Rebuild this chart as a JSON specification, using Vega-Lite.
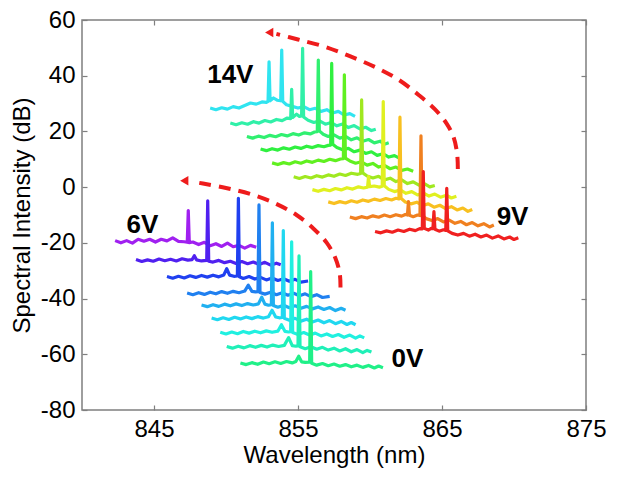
{
  "$schema": "https://vega.github.io/schema/vega-lite/v6.json",
  "width": 504,
  "height": 390,
  "autosize": {"type": "none"},
  "padding": {"left": 82, "top": 20, "right": 37, "bottom": 71},
  "background": "white",
  "config": {
    "font": "Liberation Sans",
    "view": {"stroke": "#7f7f7f", "strokeWidth": 1.5},
    "axis": {
      "labelFont": "Liberation Sans", "titleFont": "Liberation Sans",
      "labelFontSize": 24, "titleFontSize": 24, "titleFontWeight": "normal",
      "labelColor": "#000000", "titleColor": "#000000",
      "tickColor": "#7f7f7f", "tickWidth": 1.2, "tickSize": -5,
      "domain": false, "grid": false, "labelPadding": 12, "labelFlush": false,
      "labelExpr": "datum.value < 0 ? '-' + abs(datum.value) : '' + datum.value"
    }
  },
  "datasets": {
    "spec": [
      {"s":"a01","x":848.9,"y":28.4},{"s":"a01","x":849.3,"y":27.8},{"s":"a01","x":849.7,"y":28.5},{"s":"a01","x":850.1,"y":28.0},{"s":"a01","x":850.5,"y":28.9},{"s":"a01","x":850.9,"y":28.4},{"s":"a01","x":851.3,"y":29.3},{"s":"a01","x":851.7,"y":30.2},{"s":"a01","x":852.1,"y":29.8},{"s":"a01","x":852.5,"y":30.6},{"s":"a01","x":852.8,"y":30.4},{"s":"a01","x":852.92,"y":30.8},{"s":"a01","x":852.99,"y":45.0},{"s":"a01","x":853.06,"y":31.0},{"s":"a01","x":853.3,"y":32.0},{"s":"a01","x":853.55,"y":31.2},{"s":"a01","x":853.8,"y":31.0},{"s":"a01","x":853.87,"y":49.2},{"s":"a01","x":853.94,"y":30.8},{"s":"a01","x":854.2,"y":29.6},{"s":"a01","x":854.6,"y":29.0},{"s":"a01","x":855.0,"y":28.4},{"s":"a01","x":855.4,"y":28.9},{"s":"a01","x":855.8,"y":27.8},{"s":"a01","x":856.2,"y":28.3},{"s":"a01","x":856.6,"y":27.2},{"s":"a01","x":857.0,"y":27.8},{"s":"a01","x":857.4,"y":26.6},{"s":"a01","x":857.8,"y":27.2},{"s":"a01","x":858.2,"y":25.9},{"s":"a01","x":858.6,"y":26.4},{"s":"a01","x":858.96,"y":25.4},
      {"s":"a02","x":850.3,"y":23.0},{"s":"a02","x":850.7,"y":22.4},{"s":"a02","x":851.1,"y":23.1},{"s":"a02","x":851.5,"y":22.6},{"s":"a02","x":851.9,"y":23.5},{"s":"a02","x":852.3,"y":23.0},{"s":"a02","x":852.7,"y":23.9},{"s":"a02","x":853.1,"y":23.4},{"s":"a02","x":853.5,"y":24.3},{"s":"a02","x":853.9,"y":23.9},{"s":"a02","x":854.25,"y":24.8},{"s":"a02","x":854.49,"y":24.6},{"s":"a02","x":854.56,"y":35.1},{"s":"a02","x":854.63,"y":25.0},{"s":"a02","x":854.9,"y":26.2},{"s":"a02","x":855.1,"y":25.4},{"s":"a02","x":855.25,"y":25.6},{"s":"a02","x":855.32,"y":49.8},{"s":"a02","x":855.39,"y":25.2},{"s":"a02","x":855.7,"y":24.0},{"s":"a02","x":856.1,"y":23.2},{"s":"a02","x":856.5,"y":23.8},{"s":"a02","x":856.9,"y":22.6},{"s":"a02","x":857.3,"y":23.2},{"s":"a02","x":857.7,"y":22.0},{"s":"a02","x":858.1,"y":22.7},{"s":"a02","x":858.5,"y":21.4},{"s":"a02","x":858.9,"y":22.1},{"s":"a02","x":859.3,"y":20.9},{"s":"a02","x":859.7,"y":21.5},{"s":"a02","x":860.1,"y":20.3},{"s":"a02","x":860.4,"y":20.8},
      {"s":"a03","x":851.45,"y":18.2},{"s":"a03","x":851.85,"y":17.6},{"s":"a03","x":852.25,"y":18.3},{"s":"a03","x":852.65,"y":17.8},{"s":"a03","x":853.05,"y":18.6},{"s":"a03","x":853.45,"y":18.1},{"s":"a03","x":853.85,"y":18.9},{"s":"a03","x":854.25,"y":18.4},{"s":"a03","x":854.65,"y":19.2},{"s":"a03","x":855.05,"y":18.7},{"s":"a03","x":855.45,"y":19.5},{"s":"a03","x":855.85,"y":19.1},{"s":"a03","x":856.15,"y":19.8},{"s":"a03","x":856.34,"y":19.9},{"s":"a03","x":856.41,"y":45.6},{"s":"a03","x":856.48,"y":20.2},{"s":"a03","x":856.75,"y":19.0},{"s":"a03","x":857.1,"y":18.2},{"s":"a03","x":857.5,"y":18.8},{"s":"a03","x":857.9,"y":17.6},{"s":"a03","x":858.3,"y":18.2},{"s":"a03","x":858.7,"y":17.0},{"s":"a03","x":859.1,"y":17.7},{"s":"a03","x":859.5,"y":16.5},{"s":"a03","x":859.9,"y":17.1},{"s":"a03","x":860.3,"y":15.9},{"s":"a03","x":860.7,"y":16.5},{"s":"a03","x":861.0,"y":15.4},{"s":"a03","x":861.3,"y":15.9},
      {"s":"a04","x":852.4,"y":13.7},{"s":"a04","x":852.8,"y":13.1},{"s":"a04","x":853.2,"y":13.8},{"s":"a04","x":853.6,"y":13.3},{"s":"a04","x":854.0,"y":14.1},{"s":"a04","x":854.4,"y":13.6},{"s":"a04","x":854.8,"y":14.4},{"s":"a04","x":855.2,"y":13.9},{"s":"a04","x":855.6,"y":14.7},{"s":"a04","x":856.0,"y":14.2},{"s":"a04","x":856.4,"y":14.9},{"s":"a04","x":856.8,"y":14.5},{"s":"a04","x":857.1,"y":15.0},{"s":"a04","x":857.27,"y":15.1},{"s":"a04","x":857.34,"y":44.4},{"s":"a04","x":857.41,"y":15.4},{"s":"a04","x":857.7,"y":14.2},{"s":"a04","x":858.1,"y":13.4},{"s":"a04","x":858.5,"y":13.9},{"s":"a04","x":858.9,"y":12.7},{"s":"a04","x":859.3,"y":13.3},{"s":"a04","x":859.7,"y":12.1},{"s":"a04","x":860.1,"y":12.7},{"s":"a04","x":860.5,"y":11.4},{"s":"a04","x":860.9,"y":12.0},{"s":"a04","x":861.3,"y":10.8},{"s":"a04","x":861.7,"y":11.3},{"s":"a04","x":862.0,"y":10.5},
      {"s":"a05","x":853.2,"y":8.7},{"s":"a05","x":853.6,"y":8.1},{"s":"a05","x":854.0,"y":8.8},{"s":"a05","x":854.4,"y":8.3},{"s":"a05","x":854.8,"y":9.1},{"s":"a05","x":855.2,"y":8.6},{"s":"a05","x":855.6,"y":9.4},{"s":"a05","x":856.0,"y":8.9},{"s":"a05","x":856.4,"y":9.7},{"s":"a05","x":856.8,"y":9.2},{"s":"a05","x":857.2,"y":10.0},{"s":"a05","x":857.6,"y":9.5},{"s":"a05","x":857.95,"y":10.1},{"s":"a05","x":858.15,"y":10.2},{"s":"a05","x":858.22,"y":40.3},{"s":"a05","x":858.29,"y":10.4},{"s":"a05","x":858.6,"y":9.4},{"s":"a05","x":859.0,"y":8.6},{"s":"a05","x":859.4,"y":9.1},{"s":"a05","x":859.8,"y":7.9},{"s":"a05","x":860.2,"y":8.5},{"s":"a05","x":860.6,"y":7.2},{"s":"a05","x":861.0,"y":7.8},{"s":"a05","x":861.4,"y":6.6},{"s":"a05","x":861.8,"y":7.2},{"s":"a05","x":862.2,"y":6.0},{"s":"a05","x":862.6,"y":6.5},{"s":"a05","x":863.0,"y":5.7},
      {"s":"a06","x":854.7,"y":3.7},{"s":"a06","x":855.1,"y":3.1},{"s":"a06","x":855.5,"y":3.8},{"s":"a06","x":855.9,"y":3.3},{"s":"a06","x":856.3,"y":4.1},{"s":"a06","x":856.7,"y":3.6},{"s":"a06","x":857.1,"y":4.4},{"s":"a06","x":857.5,"y":3.9},{"s":"a06","x":857.9,"y":4.7},{"s":"a06","x":858.3,"y":4.2},{"s":"a06","x":858.7,"y":5.0},{"s":"a06","x":859.15,"y":4.6},{"s":"a06","x":859.35,"y":4.9},{"s":"a06","x":859.42,"y":31.3},{"s":"a06","x":859.49,"y":5.1},{"s":"a06","x":859.8,"y":4.0},{"s":"a06","x":860.2,"y":3.3},{"s":"a06","x":860.6,"y":3.9},{"s":"a06","x":861.0,"y":2.6},{"s":"a06","x":861.4,"y":3.2},{"s":"a06","x":861.8,"y":2.0},{"s":"a06","x":862.2,"y":2.6},{"s":"a06","x":862.6,"y":1.3},{"s":"a06","x":863.0,"y":1.9},{"s":"a06","x":863.4,"y":0.7},{"s":"a06","x":863.8,"y":1.2},{"s":"a06","x":864.15,"y":0.1},{"s":"a06","x":864.5,"y":0.6},
      {"s":"a07","x":856.0,"y":-0.9},{"s":"a07","x":856.4,"y":-1.5},{"s":"a07","x":856.8,"y":-0.8},{"s":"a07","x":857.2,"y":-1.3},{"s":"a07","x":857.6,"y":-0.5},{"s":"a07","x":858.0,"y":-1.0},{"s":"a07","x":858.4,"y":-0.2},{"s":"a07","x":858.8,"y":-0.7},{"s":"a07","x":859.2,"y":0.1},{"s":"a07","x":859.55,"y":-0.3},{"s":"a07","x":859.83,"y":0.0},{"s":"a07","x":859.9,"y":3.8},{"s":"a07","x":859.97,"y":0.2},{"s":"a07","x":860.3,"y":0.4},{"s":"a07","x":860.65,"y":0.0},{"s":"a07","x":860.85,"y":0.3},{"s":"a07","x":860.92,"y":30.7},{"s":"a07","x":860.99,"y":0.5},{"s":"a07","x":861.3,"y":-0.8},{"s":"a07","x":861.7,"y":-1.6},{"s":"a07","x":862.1,"y":-1.0},{"s":"a07","x":862.5,"y":-2.2},{"s":"a07","x":862.9,"y":-1.6},{"s":"a07","x":863.3,"y":-2.8},{"s":"a07","x":863.7,"y":-2.1},{"s":"a07","x":864.1,"y":-3.2},{"s":"a07","x":864.5,"y":-2.5},{"s":"a07","x":864.9,"y":-3.6},{"s":"a07","x":865.3,"y":-2.9},{"s":"a07","x":865.65,"y":-3.9},{"s":"a07","x":866.0,"y":-3.3},
      {"s":"a08","x":857.1,"y":-5.3},{"s":"a08","x":857.5,"y":-5.9},{"s":"a08","x":857.9,"y":-5.2},{"s":"a08","x":858.3,"y":-5.7},{"s":"a08","x":858.7,"y":-4.9},{"s":"a08","x":859.1,"y":-5.4},{"s":"a08","x":859.5,"y":-4.6},{"s":"a08","x":859.9,"y":-5.1},{"s":"a08","x":860.3,"y":-4.3},{"s":"a08","x":860.7,"y":-4.8},{"s":"a08","x":861.1,"y":-4.1},{"s":"a08","x":861.5,"y":-4.6},{"s":"a08","x":861.8,"y":-4.0},{"s":"a08","x":862.01,"y":-4.2},{"s":"a08","x":862.08,"y":25.1},{"s":"a08","x":862.15,"y":-4.0},{"s":"a08","x":862.45,"y":-5.3},{"s":"a08","x":862.85,"y":-6.0},{"s":"a08","x":863.25,"y":-5.4},{"s":"a08","x":863.65,"y":-6.6},{"s":"a08","x":864.05,"y":-6.0},{"s":"a08","x":864.45,"y":-7.2},{"s":"a08","x":864.85,"y":-6.5},{"s":"a08","x":865.25,"y":-7.7},{"s":"a08","x":865.65,"y":-7.0},{"s":"a08","x":866.05,"y":-8.2},{"s":"a08","x":866.45,"y":-7.5},{"s":"a08","x":866.8,"y":-8.7},{"s":"a08","x":867.1,"y":-8.0},
      {"s":"a09","x":858.6,"y":-10.7},{"s":"a09","x":859.0,"y":-11.3},{"s":"a09","x":859.4,"y":-10.6},{"s":"a09","x":859.8,"y":-11.1},{"s":"a09","x":860.2,"y":-10.3},{"s":"a09","x":860.6,"y":-10.8},{"s":"a09","x":861.0,"y":-10.0},{"s":"a09","x":861.4,"y":-10.6},{"s":"a09","x":861.8,"y":-9.9},{"s":"a09","x":862.2,"y":-10.4},{"s":"a09","x":862.45,"y":-9.8},{"s":"a09","x":862.6,"y":-10.0},{"s":"a09","x":862.67,"y":-5.2},{"s":"a09","x":862.74,"y":-10.1},{"s":"a09","x":863.0,"y":-10.6},{"s":"a09","x":863.3,"y":-10.0},{"s":"a09","x":863.47,"y":-10.2},{"s":"a09","x":863.54,"y":18.4},{"s":"a09","x":863.61,"y":-10.0},{"s":"a09","x":863.9,"y":-11.3},{"s":"a09","x":864.3,"y":-12.0},{"s":"a09","x":864.7,"y":-11.3},{"s":"a09","x":865.1,"y":-12.5},{"s":"a09","x":865.5,"y":-11.8},{"s":"a09","x":865.9,"y":-13.0},{"s":"a09","x":866.3,"y":-12.3},{"s":"a09","x":866.7,"y":-13.5},{"s":"a09","x":867.1,"y":-12.7},{"s":"a09","x":867.5,"y":-13.9},{"s":"a09","x":867.9,"y":-13.1},{"s":"a09","x":868.3,"y":-14.3},{"s":"a09","x":868.6,"y":-13.6},
      {"s":"a10","x":860.35,"y":-15.9},{"s":"a10","x":860.75,"y":-16.4},{"s":"a10","x":861.15,"y":-15.7},{"s":"a10","x":861.55,"y":-16.2},{"s":"a10","x":861.95,"y":-15.4},{"s":"a10","x":862.35,"y":-15.9},{"s":"a10","x":862.75,"y":-15.1},{"s":"a10","x":863.15,"y":-15.6},{"s":"a10","x":863.45,"y":-14.9},{"s":"a10","x":863.63,"y":-15.0},{"s":"a10","x":863.7,"y":5.6},{"s":"a10","x":863.77,"y":-14.8},{"s":"a10","x":864.05,"y":-15.4},{"s":"a10","x":864.25,"y":-14.8},{"s":"a10","x":864.37,"y":-14.9},{"s":"a10","x":864.44,"y":-8.8},{"s":"a10","x":864.51,"y":-15.1},{"s":"a10","x":864.8,"y":-15.8},{"s":"a10","x":865.1,"y":-15.3},{"s":"a10","x":865.26,"y":-15.5},{"s":"a10","x":865.33,"y":-0.4},{"s":"a10","x":865.4,"y":-15.7},{"s":"a10","x":865.7,"y":-16.6},{"s":"a10","x":866.1,"y":-17.2},{"s":"a10","x":866.5,"y":-16.6},{"s":"a10","x":866.9,"y":-17.6},{"s":"a10","x":867.3,"y":-16.9},{"s":"a10","x":867.7,"y":-17.9},{"s":"a10","x":868.1,"y":-17.2},{"s":"a10","x":868.5,"y":-18.3},{"s":"a10","x":868.9,"y":-17.5},{"s":"a10","x":869.3,"y":-18.6},{"s":"a10","x":869.7,"y":-17.9},{"s":"a10","x":870.0,"y":-18.8},{"s":"a10","x":870.3,"y":-18.2},
      {"s":"b01","x":842.3,"y":-19.2},{"s":"b01","x":842.7,"y":-20.0},{"s":"b01","x":843.1,"y":-19.2},{"s":"b01","x":843.5,"y":-20.1},{"s":"b01","x":843.9,"y":-18.7},{"s":"b01","x":844.3,"y":-19.4},{"s":"b01","x":844.7,"y":-18.7},{"s":"b01","x":845.1,"y":-19.7},{"s":"b01","x":845.5,"y":-18.7},{"s":"b01","x":845.9,"y":-19.3},{"s":"b01","x":846.3,"y":-18.2},{"s":"b01","x":846.7,"y":-19.5},{"s":"b01","x":847.1,"y":-19.6},{"s":"b01","x":847.31,"y":-19.8},{"s":"b01","x":847.38,"y":-8.4},{"s":"b01","x":847.45,"y":-19.9},{"s":"b01","x":847.7,"y":-19.7},{"s":"b01","x":848.1,"y":-20.6},{"s":"b01","x":848.5,"y":-19.8},{"s":"b01","x":848.9,"y":-21.0},{"s":"b01","x":849.3,"y":-20.3},{"s":"b01","x":849.7,"y":-21.3},{"s":"b01","x":850.1,"y":-20.1},{"s":"b01","x":850.5,"y":-21.4},{"s":"b01","x":850.9,"y":-20.9},{"s":"b01","x":851.3,"y":-21.9},{"s":"b01","x":851.7,"y":-20.9},{"s":"b01","x":852.1,"y":-21.6},
      {"s":"b02","x":843.75,"y":-26.0},{"s":"b02","x":844.15,"y":-26.7},{"s":"b02","x":844.55,"y":-26.1},{"s":"b02","x":844.95,"y":-26.6},{"s":"b02","x":845.35,"y":-25.8},{"s":"b02","x":845.75,"y":-26.4},{"s":"b02","x":846.15,"y":-25.9},{"s":"b02","x":846.55,"y":-26.5},{"s":"b02","x":846.95,"y":-25.7},{"s":"b02","x":847.35,"y":-26.2},{"s":"b02","x":847.65,"y":-26.0},{"s":"b02","x":847.8,"y":-24.6},{"s":"b02","x":847.95,"y":-26.1},{"s":"b02","x":848.3,"y":-26.5},{"s":"b02","x":848.66,"y":-26.3},{"s":"b02","x":848.73,"y":-4.9},{"s":"b02","x":848.8,"y":-26.6},{"s":"b02","x":849.1,"y":-26.9},{"s":"b02","x":849.5,"y":-26.3},{"s":"b02","x":849.9,"y":-27.1},{"s":"b02","x":850.3,"y":-26.6},{"s":"b02","x":850.7,"y":-27.4},{"s":"b02","x":851.1,"y":-26.7},{"s":"b02","x":851.5,"y":-27.5},{"s":"b02","x":851.9,"y":-26.9},{"s":"b02","x":852.3,"y":-27.8},{"s":"b02","x":852.7,"y":-27.0},{"s":"b02","x":853.1,"y":-28.0},{"s":"b02","x":853.5,"y":-27.3},{"s":"b02","x":853.8,"y":-27.9},
      {"s":"b03","x":845.9,"y":-32.1},{"s":"b03","x":846.3,"y":-32.7},{"s":"b03","x":846.7,"y":-32.0},{"s":"b03","x":847.1,"y":-32.6},{"s":"b03","x":847.5,"y":-31.8},{"s":"b03","x":847.9,"y":-32.4},{"s":"b03","x":848.3,"y":-31.7},{"s":"b03","x":848.7,"y":-32.3},{"s":"b03","x":849.1,"y":-31.6},{"s":"b03","x":849.5,"y":-32.2},{"s":"b03","x":849.85,"y":-31.5},{"s":"b03","x":850.05,"y":-29.3},{"s":"b03","x":850.25,"y":-31.6},{"s":"b03","x":850.55,"y":-32.0},{"s":"b03","x":850.79,"y":-31.9},{"s":"b03","x":850.86,"y":-4.0},{"s":"b03","x":850.93,"y":-32.2},{"s":"b03","x":851.2,"y":-32.8},{"s":"b03","x":851.6,"y":-32.1},{"s":"b03","x":852.0,"y":-33.0},{"s":"b03","x":852.4,"y":-32.4},{"s":"b03","x":852.8,"y":-33.3},{"s":"b03","x":853.2,"y":-32.6},{"s":"b03","x":853.6,"y":-33.5},{"s":"b03","x":854.0,"y":-32.9},{"s":"b03","x":854.4,"y":-33.8},{"s":"b03","x":854.8,"y":-33.1},{"s":"b03","x":855.2,"y":-34.1},{"s":"b03","x":855.7,"y":-33.7},
      {"s":"b04","x":847.3,"y":-38.0},{"s":"b04","x":847.7,"y":-38.6},{"s":"b04","x":848.1,"y":-37.9},{"s":"b04","x":848.5,"y":-38.5},{"s":"b04","x":848.9,"y":-37.7},{"s":"b04","x":849.3,"y":-38.3},{"s":"b04","x":849.7,"y":-37.5},{"s":"b04","x":850.1,"y":-38.1},{"s":"b04","x":850.5,"y":-37.4},{"s":"b04","x":850.9,"y":-37.9},{"s":"b04","x":851.3,"y":-37.3},{"s":"b04","x":851.55,"y":-35.2},{"s":"b04","x":851.8,"y":-37.4},{"s":"b04","x":852.05,"y":-37.6},{"s":"b04","x":852.22,"y":-37.5},{"s":"b04","x":852.29,"y":-6.4},{"s":"b04","x":852.36,"y":-37.8},{"s":"b04","x":852.7,"y":-38.4},{"s":"b04","x":853.1,"y":-37.7},{"s":"b04","x":853.5,"y":-38.6},{"s":"b04","x":853.9,"y":-37.9},{"s":"b04","x":854.3,"y":-38.8},{"s":"b04","x":854.7,"y":-38.1},{"s":"b04","x":855.1,"y":-39.0},{"s":"b04","x":855.5,"y":-38.3},{"s":"b04","x":855.9,"y":-39.3},{"s":"b04","x":856.3,"y":-38.6},{"s":"b04","x":856.7,"y":-39.6},{"s":"b04","x":857.2,"y":-39.2},
      {"s":"b05","x":848.3,"y":-42.3},{"s":"b05","x":848.7,"y":-42.9},{"s":"b05","x":849.1,"y":-42.2},{"s":"b05","x":849.5,"y":-42.8},{"s":"b05","x":849.9,"y":-42.0},{"s":"b05","x":850.3,"y":-42.6},{"s":"b05","x":850.7,"y":-41.9},{"s":"b05","x":851.1,"y":-42.5},{"s":"b05","x":851.5,"y":-41.8},{"s":"b05","x":851.9,"y":-42.3},{"s":"b05","x":852.25,"y":-41.9},{"s":"b05","x":852.48,"y":-39.5},{"s":"b05","x":852.7,"y":-42.0},{"s":"b05","x":852.95,"y":-42.4},{"s":"b05","x":853.15,"y":-42.2},{"s":"b05","x":853.22,"y":-12.8},{"s":"b05","x":853.29,"y":-42.5},{"s":"b05","x":853.6,"y":-43.1},{"s":"b05","x":854.0,"y":-42.4},{"s":"b05","x":854.4,"y":-43.3},{"s":"b05","x":854.8,"y":-42.6},{"s":"b05","x":855.2,"y":-43.5},{"s":"b05","x":855.6,"y":-42.8},{"s":"b05","x":856.0,"y":-43.7},{"s":"b05","x":856.4,"y":-43.0},{"s":"b05","x":856.8,"y":-43.9},{"s":"b05","x":857.2,"y":-43.2},{"s":"b05","x":857.6,"y":-44.3},{"s":"b05","x":858.0,"y":-43.5},{"s":"b05","x":858.3,"y":-44.2},
      {"s":"b06","x":849.0,"y":-47.0},{"s":"b06","x":849.4,"y":-47.6},{"s":"b06","x":849.8,"y":-46.9},{"s":"b06","x":850.2,"y":-47.5},{"s":"b06","x":850.6,"y":-46.7},{"s":"b06","x":851.0,"y":-47.3},{"s":"b06","x":851.4,"y":-46.6},{"s":"b06","x":851.8,"y":-47.2},{"s":"b06","x":852.2,"y":-46.5},{"s":"b06","x":852.6,"y":-47.0},{"s":"b06","x":852.95,"y":-46.5},{"s":"b06","x":853.2,"y":-44.2},{"s":"b06","x":853.45,"y":-46.6},{"s":"b06","x":853.7,"y":-46.9},{"s":"b06","x":853.91,"y":-46.8},{"s":"b06","x":853.98,"y":-15.6},{"s":"b06","x":854.05,"y":-47.1},{"s":"b06","x":854.4,"y":-47.8},{"s":"b06","x":854.8,"y":-47.1},{"s":"b06","x":855.2,"y":-48.1},{"s":"b06","x":855.6,"y":-47.4},{"s":"b06","x":856.0,"y":-48.4},{"s":"b06","x":856.4,"y":-47.7},{"s":"b06","x":856.8,"y":-48.7},{"s":"b06","x":857.2,"y":-47.9},{"s":"b06","x":857.6,"y":-49.0},{"s":"b06","x":858.0,"y":-48.2},{"s":"b06","x":858.4,"y":-49.3},{"s":"b06","x":858.7,"y":-48.6},{"s":"b06","x":859.0,"y":-49.4},
      {"s":"b07","x":849.6,"y":-52.1},{"s":"b07","x":850.0,"y":-52.7},{"s":"b07","x":850.4,"y":-52.0},{"s":"b07","x":850.8,"y":-52.6},{"s":"b07","x":851.2,"y":-51.8},{"s":"b07","x":851.6,"y":-52.4},{"s":"b07","x":852.0,"y":-51.7},{"s":"b07","x":852.4,"y":-52.3},{"s":"b07","x":852.8,"y":-51.6},{"s":"b07","x":853.2,"y":-52.1},{"s":"b07","x":853.6,"y":-51.7},{"s":"b07","x":853.85,"y":-49.4},{"s":"b07","x":854.1,"y":-51.8},{"s":"b07","x":854.35,"y":-52.0},{"s":"b07","x":854.49,"y":-51.9},{"s":"b07","x":854.56,"y":-19.6},{"s":"b07","x":854.63,"y":-52.2},{"s":"b07","x":855.0,"y":-52.9},{"s":"b07","x":855.4,"y":-52.2},{"s":"b07","x":855.8,"y":-53.1},{"s":"b07","x":856.2,"y":-52.4},{"s":"b07","x":856.6,"y":-53.4},{"s":"b07","x":857.0,"y":-52.7},{"s":"b07","x":857.4,"y":-53.6},{"s":"b07","x":857.8,"y":-52.9},{"s":"b07","x":858.2,"y":-53.9},{"s":"b07","x":858.6,"y":-53.1},{"s":"b07","x":859.0,"y":-54.2},{"s":"b07","x":859.3,"y":-53.4},{"s":"b07","x":859.6,"y":-54.1},
      {"s":"b08","x":850.05,"y":-57.2},{"s":"b08","x":850.45,"y":-57.8},{"s":"b08","x":850.85,"y":-57.1},{"s":"b08","x":851.25,"y":-57.7},{"s":"b08","x":851.65,"y":-56.9},{"s":"b08","x":852.05,"y":-57.5},{"s":"b08","x":852.45,"y":-56.8},{"s":"b08","x":852.85,"y":-57.4},{"s":"b08","x":853.25,"y":-56.7},{"s":"b08","x":853.65,"y":-57.2},{"s":"b08","x":854.05,"y":-56.8},{"s":"b08","x":854.35,"y":-54.0},{"s":"b08","x":854.6,"y":-56.9},{"s":"b08","x":854.85,"y":-57.1},{"s":"b08","x":855.0,"y":-57.0},{"s":"b08","x":855.07,"y":-24.7},{"s":"b08","x":855.14,"y":-57.3},{"s":"b08","x":855.5,"y":-58.0},{"s":"b08","x":855.9,"y":-57.3},{"s":"b08","x":856.3,"y":-58.2},{"s":"b08","x":856.7,"y":-57.5},{"s":"b08","x":857.1,"y":-58.5},{"s":"b08","x":857.5,"y":-57.8},{"s":"b08","x":857.9,"y":-58.8},{"s":"b08","x":858.3,"y":-58.0},{"s":"b08","x":858.7,"y":-59.1},{"s":"b08","x":859.1,"y":-58.3},{"s":"b08","x":859.5,"y":-59.4},{"s":"b08","x":859.8,"y":-58.6},{"s":"b08","x":860.1,"y":-59.2},
      {"s":"b09","x":851.0,"y":-63.1},{"s":"b09","x":851.4,"y":-63.7},{"s":"b09","x":851.8,"y":-63.0},{"s":"b09","x":852.2,"y":-63.6},{"s":"b09","x":852.6,"y":-62.8},{"s":"b09","x":853.0,"y":-63.4},{"s":"b09","x":853.4,"y":-62.7},{"s":"b09","x":853.8,"y":-63.3},{"s":"b09","x":854.2,"y":-62.6},{"s":"b09","x":854.6,"y":-63.1},{"s":"b09","x":854.85,"y":-62.6},{"s":"b09","x":855.05,"y":-60.7},{"s":"b09","x":855.25,"y":-62.7},{"s":"b09","x":855.5,"y":-62.9},{"s":"b09","x":855.81,"y":-62.8},{"s":"b09","x":855.88,"y":-30.3},{"s":"b09","x":855.95,"y":-63.2},{"s":"b09","x":856.3,"y":-63.9},{"s":"b09","x":856.7,"y":-63.3},{"s":"b09","x":857.1,"y":-64.1},{"s":"b09","x":857.5,"y":-63.5},{"s":"b09","x":857.9,"y":-64.3},{"s":"b09","x":858.3,"y":-63.7},{"s":"b09","x":858.7,"y":-64.5},{"s":"b09","x":859.1,"y":-63.9},{"s":"b09","x":859.5,"y":-64.7},{"s":"b09","x":859.9,"y":-64.0},{"s":"b09","x":860.3,"y":-64.9},{"s":"b09","x":860.6,"y":-64.2},{"s":"b09","x":860.9,"y":-64.8}
    ],
    "arcs": [
      {"a":"up","i":1,"x":866.1,"y":6.5},{"a":"up","i":2,"x":866.05,"y":12},{"a":"up","i":3,"x":865.8,"y":18},{"a":"up","i":4,"x":865.3,"y":23},{"a":"up","i":5,"x":864.5,"y":28},{"a":"up","i":6,"x":863.4,"y":33},{"a":"up","i":7,"x":862.0,"y":38.5},{"a":"up","i":8,"x":860.4,"y":43},{"a":"up","i":9,"x":858.6,"y":47},{"a":"up","i":10,"x":856.8,"y":50.5},{"a":"up","i":11,"x":855.0,"y":53},{"a":"up","i":12,"x":853.5,"y":55.0},
      {"a":"lo","i":1,"x":857.95,"y":-36},{"a":"lo","i":2,"x":857.9,"y":-31},{"a":"lo","i":3,"x":857.6,"y":-25.5},{"a":"lo","i":4,"x":857.0,"y":-20},{"a":"lo","i":5,"x":856.1,"y":-15},{"a":"lo","i":6,"x":854.9,"y":-10},{"a":"lo","i":7,"x":853.4,"y":-5.8},{"a":"lo","i":8,"x":851.7,"y":-2.5},{"a":"lo","i":9,"x":850.0,"y":-0.3},{"a":"lo","i":10,"x":848.4,"y":1.3},{"a":"lo","i":11,"x":847.6,"y":2.0}
    ],
    "heads": [
      {"x":853.0,"y":55.5},{"x":847.1,"y":2.3}
    ],
    "labels": [
      {"t":"14V","x":850.3,"y":40.3},{"t":"6V","x":844.2,"y":-13.6},{"t":"0V","x":862.6,"y":-61.7},{"t":"9V","x":869.9,"y":-10.7}
    ]
  },
  "layer": [
    {
      "data": {"name": "spec"},
      "mark": {"type": "line", "strokeWidth": 3.2, "strokeJoin": "round"},
      "encoding": {
        "x": {"field": "x", "type": "quantitative", "scale": {"domain": [840, 875], "nice": false, "zero": false},
              "axis": {"orient": "bottom", "values": [845, 855, 865, 875], "title": "Wavelength (nm)", "titlePadding": 2}},
        "y": {"field": "y", "type": "quantitative", "scale": {"domain": [-80, 60], "nice": false, "zero": false},
              "axis": {"orient": "left", "values": [-80, -60, -40, -20, 0, 20, 40, 60], "title": "Spectral Intensity (dB)", "titlePadding": 6}},
        "color": {"field": "s", "type": "nominal", "legend": null,
                  "scale": {"domain": ["a01","a02","a03","a04","a05","a06","a07","a08","a09","a10","b01","b02","b03","b04","b05","b06","b07","b08","b09"],
                            "range": ["#30e4f0","#30f0a8","#30f070","#30f040","#60f020","#a0e820","#e0f020","#f8c020","#f08020","#f02020","#a020f0","#5020f0","#2040f0","#2080f0","#20b0f0","#20d8f0","#20f0e0","#20f0b8","#20f088"]}}
      }
    },
    {
      "data": {"name": "arcs"},
      "mark": {"type": "line", "color": "#ee1c1c", "strokeWidth": 4, "strokeDash": [12, 8], "interpolate": "catmull-rom"},
      "encoding": {
        "x": {"field": "x", "type": "quantitative", "scale": {"domain": [840, 875], "nice": false, "zero": false}, "axis": null},
        "y": {"field": "y", "type": "quantitative", "scale": {"domain": [-80, 60], "nice": false, "zero": false}, "axis": null},
        "detail": {"field": "a"},
        "order": {"field": "i", "type": "quantitative"}
      }
    },
    {
      "data": {"name": "heads"},
      "mark": {"type": "point", "shape": "triangle-left", "filled": true, "color": "#ee1c1c", "size": 90, "opacity": 1},
      "encoding": {
        "x": {"field": "x", "type": "quantitative", "scale": {"domain": [840, 875], "nice": false, "zero": false}, "axis": null},
        "y": {"field": "y", "type": "quantitative", "scale": {"domain": [-80, 60], "nice": false, "zero": false}, "axis": null}
      }
    },
    {
      "data": {"name": "labels"},
      "mark": {"type": "text", "fontSize": 26, "fontWeight": "bold", "font": "Liberation Sans", "align": "center", "baseline": "middle", "color": "#000000"},
      "encoding": {
        "x": {"field": "x", "type": "quantitative", "scale": {"domain": [840, 875], "nice": false, "zero": false},
              "axis": {"orient": "top", "values": [845, 855, 865, 875], "labels": false, "title": null}},
        "y": {"field": "y", "type": "quantitative", "scale": {"domain": [-80, 60], "nice": false, "zero": false},
              "axis": {"orient": "right", "values": [-80, -60, -40, -20, 0, 20, 40, 60], "labels": false, "title": null}},
        "text": {"field": "t"}
      }
    }
  ],
  "resolve": {"axis": {"x": "independent", "y": "independent"}}
}
